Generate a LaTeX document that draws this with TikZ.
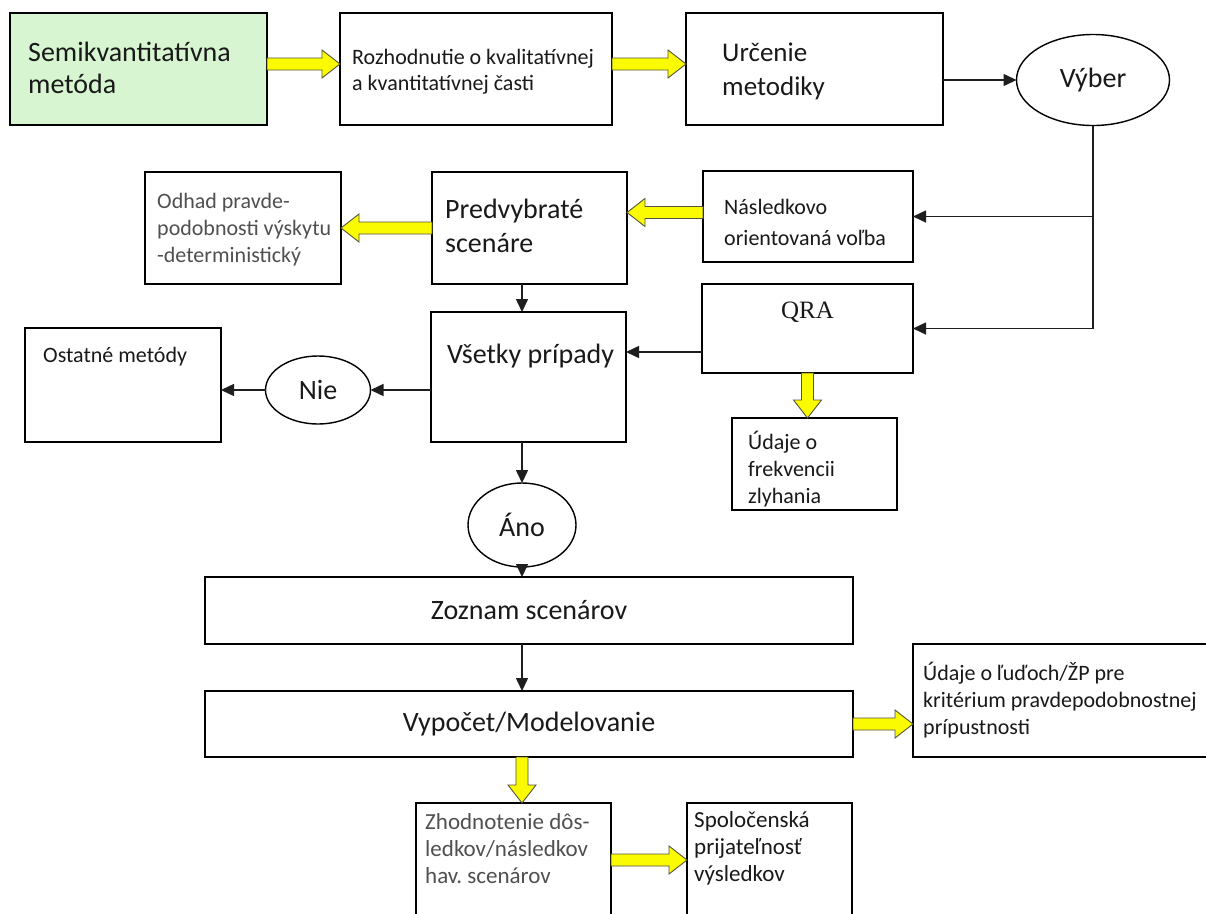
\documentclass[tikz,border=0pt]{standalone}
\usepackage{fontspec}
\setmainfont{Carlito}
\newfontfamily\tnr{Liberation Serif}
\usetikzlibrary{shapes.geometric,arrows.meta,calc}
\frenchspacing
\definecolor{greenf}{RGB}{214,245,208}
\definecolor{yel}{RGB}{250,250,0}
\definecolor{yout}{RGB}{85,85,60}
\definecolor{txtc}{RGB}{25,25,25}
\definecolor{gtxt}{RGB}{80,80,80}
\definecolor{linec}{RGB}{30,30,30}
\newcommand\yarrow[2]{%
  \coordinate (ya) at #1;
  \coordinate (yb) at #2;
  \coordinate (yh) at ($(yb)!18pt!(ya)$);
  \filldraw[yarr] ($(ya)!6pt!90:(yb)$) -- ($(yh)!6pt!-90:(ya)$) -- ($(yh)!14pt!-90:(ya)$)
     -- (yb) -- ($(yh)!14pt!90:(ya)$) -- ($(yh)!6pt!90:(ya)$) -- ($(ya)!6pt!-90:(yb)$) -- cycle;
}
\tikzset{
  box/.style={draw=black, line width=1.7pt, fill=white, inner sep=0pt, outer sep=0pt},
  ell/.style={ellipse, draw=black, line width=1.4pt, fill=white, inner sep=0pt, outer sep=0pt,
              font=\fontsize{28}{32}\selectfont, text=txtc},
  txt/.style={inner sep=0pt, align=left, anchor=west, text=txtc},
  arr/.style={draw=linec, line width=1.5pt, -{Triangle[length=13pt,width=12pt]}},
  yarr/.style={fill=yel, draw=yout, line width=0.9pt, line join=miter},
}
\begin{document}
\begin{tikzpicture}[x=1pt,y=-1pt]
\useasboundingbox (0,0) rectangle (1206,913);
\clip (0,0) rectangle (1206,913);
\fill[white] (0,0) rectangle (1206,913);

% boxes
\node[box, fill=greenf, minimum width=257pt, minimum height=112pt] (semi) at (138.5,69) {};
\node[box, minimum width=272pt, minimum height=112pt] (rozh) at (476,69) {};
\node[box, minimum width=257pt, minimum height=112pt] (urc) at (814.5,69) {};
\node[ell, minimum width=153pt, minimum height=91pt] (vyber) at (1093,80) {Výber};
\node[box, minimum width=196pt, minimum height=112pt] (odhad) at (243,228) {};
\node[box, minimum width=195pt, minimum height=112pt] (pred) at (529.5,228) {};
\node[box, minimum width=210pt, minimum height=91pt] (nasl) at (808,216.5) {};
\node[box, minimum width=211pt, minimum height=89pt] (qra) at (807.5,328.5) {};
\node[box, minimum width=196pt, minimum height=114pt] (ost) at (123,385) {};
\node[ell, minimum width=105pt, minimum height=68pt] (nie) at (318,390) {Nie};
\node[box, minimum width=195pt, minimum height=130pt] (vset) at (528.5,377) {};
\node[box, minimum width=165pt, minimum height=92pt] (udf) at (814.5,464) {};
\node[ell, minimum width=108pt, minimum height=84pt] (ano) at (522,525) {Áno};
\node[box, minimum width=648pt, minimum height=67pt, font=\fontsize{28}{34}\selectfont, text=txtc] (zoz) at (529,610.5) {Zoznam scenárov};
\node[box, minimum width=648pt, minimum height=66pt, font=\fontsize{28}{34}\selectfont, text=txtc] (vyp) at (529,724) {Vypočet/Modelovanie};
\node[box, minimum width=299pt, minimum height=113pt] (udl) at (1062.5,700.5) {};
\node[box, minimum width=195pt, minimum height=114pt] (zhod) at (513.5,860) {};
\node[box, minimum width=165pt, minimum height=114pt] (spol) at (769.5,860) {};

% texts
\node[txt, font=\fontsize{28}{32}\selectfont] (tsemi) at (28,68) {Semikvantitatívna\\metóda};
\node[txt, font=\fontsize{22}{26}\selectfont] (trozh) at (352,72) {Rozhodnutie o kvalitatívnej\\a kvantitatívnej časti};
\node[txt, font=\fontsize{27}{34}\selectfont] (turc) at (722,71) {Určenie\\metodiky};
\node[txt, font=\fontsize{22}{27}\selectfont, text=gtxt] (todhad) at (157,230) {Odhad pravde-\\podobnosti výskytu\\-deterministický};
\node[txt, font=\fontsize{28}{34}\selectfont] (tpred) at (445,226) {Predvybraté\\scenáre};
\node[txt, font=\fontsize{22}{31}\selectfont] (tnasl) at (724,222) {Následkovo\\orientovaná voľba};
\node[inner sep=0pt, font=\tnr\fontsize{25}{30}\selectfont, text=txtc] (tqra) at (807.5,312) {QRA};
\node[txt, font=\fontsize{22}{27}\selectfont] (tost) at (43,357) {Ostatné metódy};
\node[txt, font=\fontsize{28}{34}\selectfont] (tvset) at (447,356) {Všetky prípady};
\node[txt, font=\fontsize{22}{27}\selectfont] (tudf) at (748,469) {Údaje o\\frekvencii\\zlyhania};
\node[txt, font=\fontsize{22}{27}\selectfont] (tudl) at (923,700) {Údaje o ľuďoch/ŽP pre\\kritérium pravdepodobnostnej\\prípustnosti};
\node[txt, font=\fontsize{23}{27}\selectfont, text=gtxt] (tzhod) at (425,849) {Zhodnotenie dôs-\\ledkov/následkov\\hav. scenárov};
\node[txt, font=\fontsize{23}{27}\selectfont] (tspol) at (694,848) {Spoločenská\\prijateľnosť\\výsledkov};

% black connectors
\draw[arr] (urc.east |- vyber.west) -- (vyber.west);
\draw[arr] (vyber.south) |- (qra.east);
\draw[arr] (vyber.south |- nasl.east) -- (nasl.east);
\coordinate (qv) at ([yshift=-23.5pt]qra.west);
\draw[arr] (qv) -- (qv -| vset.east);
\draw[arr] (vset.west |- nie) -- (nie);
\draw[arr] (nie) -- (nie -| ost.east);
\draw[arr] (pred.south -| ano) -- (vset.north -| ano);
\draw[arr] (vset.south -| ano) -- (ano);
\draw[arr] (ano) -- (zoz.north -| ano);
\draw[arr] (zoz.south -| ano) -- (vyp.north -| ano);

% yellow block arrows
\yarrow{([yshift=5pt]semi.east)}{([yshift=5pt]rozh.west)}
\yarrow{([yshift=5pt]rozh.east)}{([yshift=5pt]urc.west)}
\yarrow{([yshift=4pt]nasl.west)}{([yshift=4pt]nasl.west -| pred.east)}
\yarrow{(pred.west)}{(odhad.east)}
\yarrow{(qra.south)}{(qra.south |- udf.north)}
\yarrow{(vyp.east)}{(vyp.east -| udl.west)}
\yarrow{(vyp.south -| ano)}{(zhod.north -| ano)}
\yarrow{(zhod.east)}{(spol.west)}
\end{tikzpicture}
\end{document}
